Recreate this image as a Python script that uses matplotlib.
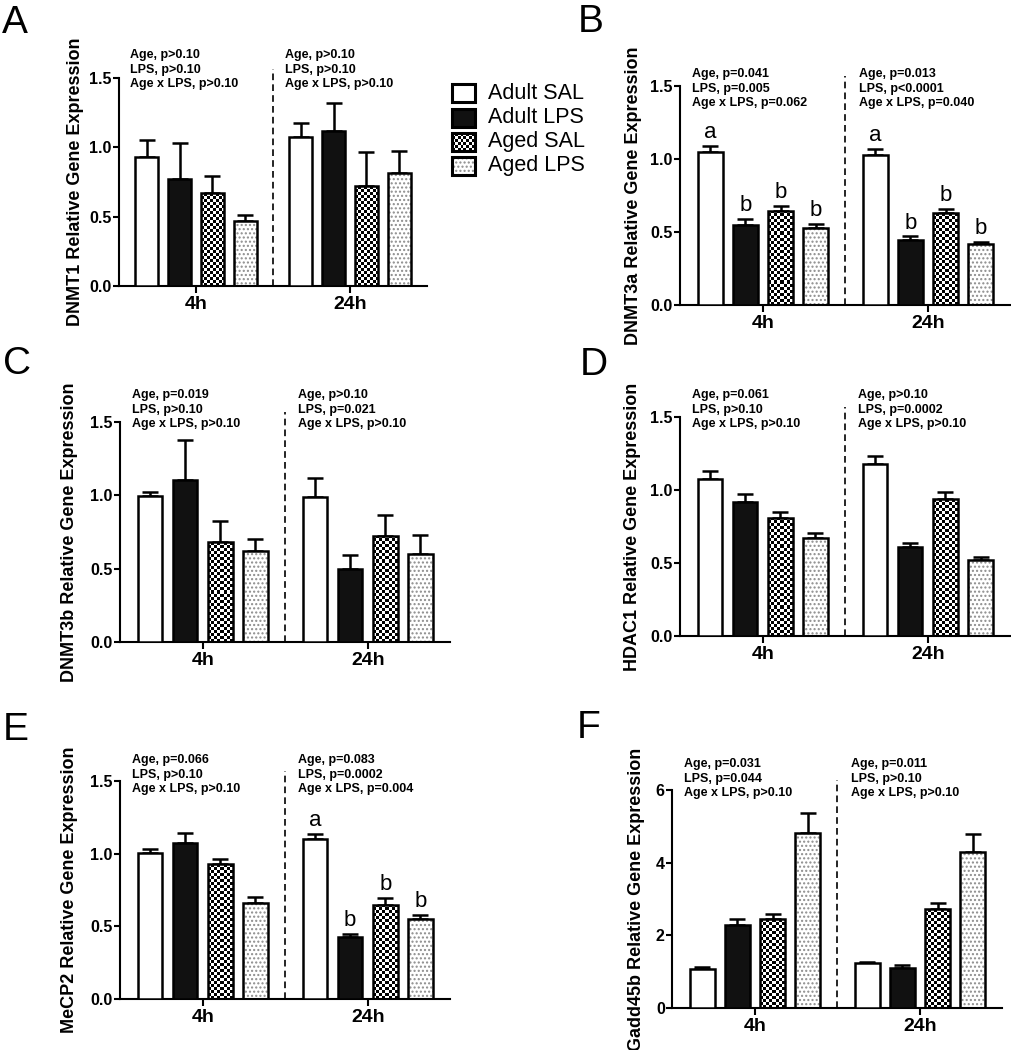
import matplotlib
matplotlib.use('Agg')
import matplotlib.pyplot as plt
import numpy as np
from matplotlib.patches import Rectangle

plt.rcParams['font.family'] = ['Liberation Sans', 'DejaVu Sans']
plt.rcParams['hatch.linewidth'] = 1.0

W, H = 1012, 1050

groups = ['4h', '24h']
conditions = ['Adult SAL', 'Adult LPS', 'Aged SAL', 'Aged LPS']

# rows: 4h, 24h ; cols: Adult SAL, Adult LPS, Aged SAL, Aged LPS
dnmt1_mean = [[0.93, 0.77, 0.67, 0.47], [1.075, 1.115, 0.72, 0.815]]
dnmt1_sem = [[0.12, 0.26, 0.12, 0.04], [0.10, 0.205, 0.245, 0.155]]
dnmt3a_mean = [[1.05, 0.55, 0.645, 0.53], [1.027, 0.445, 0.628, 0.418]]
dnmt3a_sem = [[0.04, 0.04, 0.033, 0.025], [0.043, 0.025, 0.032, 0.015]]
dnmt3b_mean = [[0.995, 1.107, 0.68, 0.618], [0.99, 0.498, 0.725, 0.60]]
dnmt3b_sem = [[0.025, 0.268, 0.147, 0.087], [0.126, 0.097, 0.143, 0.127]]
hdac1_mean = [[1.076, 0.919, 0.81, 0.672], [1.176, 0.609, 0.935, 0.52]]
hdac1_sem = [[0.054, 0.052, 0.038, 0.035], [0.054, 0.031, 0.05, 0.02]]
mecp2_mean = [[1.005, 1.073, 0.927, 0.658], [1.103, 0.427, 0.647, 0.553]]
mecp2_sem = [[0.029, 0.067, 0.039, 0.042], [0.035, 0.023, 0.05, 0.025]]
gadd45b_mean = [[1.07, 2.29, 2.445, 4.83], [1.236, 1.10, 2.72, 4.295]]
gadd45b_sem = [[0.05, 0.17, 0.145, 0.53], [0.035, 0.08, 0.16, 0.485]]

ylabels = ['DNMT1 Relative Gene Expression', 'DNMT3a Relative Gene Expression',
           'DNMT3b Relative Gene Expression', 'HDAC1 Relative Gene Expression',
           'MeCP2 Relative Gene Expression', 'Gadd45b Relative Gene Expression']

stats = [
    ('Age, p>0.10\nLPS, p>0.10\nAge x LPS, p>0.10', 'Age, p>0.10\nLPS, p>0.10\nAge x LPS, p>0.10'),
    ('Age, p=0.041\nLPS, p=0.005\nAge x LPS, p=0.062', 'Age, p=0.013\nLPS, p<0.0001\nAge x LPS, p=0.040'),
    ('Age, p=0.019\nLPS, p>0.10\nAge x LPS, p>0.10', 'Age, p>0.10\nLPS, p=0.021\nAge x LPS, p>0.10'),
    ('Age, p=0.061\nLPS, p>0.10\nAge x LPS, p>0.10', 'Age, p>0.10\nLPS, p=0.0002\nAge x LPS, p>0.10'),
    ('Age, p=0.066\nLPS, p>0.10\nAge x LPS, p>0.10', 'Age, p=0.083\nLPS, p=0.0002\nAge x LPS, p=0.004'),
    ('Age, p=0.031\nLPS, p=0.044\nAge x LPS, p>0.10', 'Age, p=0.011\nLPS, p>0.10\nAge x LPS, p>0.10'),
]

# significance letters per group (None = no letters)
sig_dnmt3a = [['a', 'b', 'b', 'b'], ['a', 'b', 'b', 'b']]
sig_mecp2 = [None, ['a', 'b', 'b', 'b']]

panels = [
    ('A', dnmt1_mean, dnmt1_sem, None),
    ('B', dnmt3a_mean, dnmt3a_sem, sig_dnmt3a),
    ('C', dnmt3b_mean, dnmt3b_sem, None),
    ('D', hdac1_mean, hdac1_sem, None),
    ('E', mecp2_mean, mecp2_sem, sig_mecp2),
    ('F', gadd45b_mean, gadd45b_sem, None),
]

# pixel layout: x of 4h tick, px between groups, y of zero, y of top tick,
# text offset above top, ylabel offset, letter x, letter baseline
layout = {
    'A': (196, 154, 286, 78, 27, 35, 2, 33),
    'B': (763, 165, 305, 86, 16, 38, 578, 32),
    'C': (202.7, 165, 642, 422, 31, 42, 3, 374),
    'D': (762.7, 165, 636, 417, 26, 39, 580, 375),
    'E': (202.7, 165, 999, 781, 25, 42, 3, 740),
    'F': (755, 165, 1008, 790, 30, 27, 577, 738),
}

offsets = np.array([-0.32, -0.107, 0.107, 0.32])
bar_w = 0.15
lw = 1.8


def checker(ax, patch, cell=3.0, zorder=2.5):
    bb = patch.get_window_extent()
    nx = max(2, int(round(bb.width / cell)))
    ny = max(1, int(round(bb.height / cell)))
    img = np.indices((ny, nx)).sum(axis=0) % 2
    d = patch.get_bbox()
    im = ax.imshow(img, cmap='gray_r', vmin=0, vmax=1, origin='lower',
                   extent=(d.x0, d.x1, d.y0, d.y1), aspect='auto',
                   interpolation='nearest', zorder=zorder)
    im.set_clip_path(patch)


fig = plt.figure(figsize=(W / 100, H / 100), dpi=100)

for i, (name, mean, sem, sig) in enumerate(panels):
    x4h, sp, y0, ytop, above, lab_off, lx, lby = layout[name]
    mean = np.array(mean)
    sem = np.array(sem)
    ymax = 6 if name == 'F' else 1.5
    ax = fig.add_axes([(x4h - 0.5 * sp) / W, 1 - y0 / H, 2 * sp / W, (y0 - ytop) / H])
    ax.set_xlim(-0.5, 1.5)
    ax.set_ylim(0, ymax)
    x = np.arange(len(groups))
    for j in range(len(conditions)):
        xs = x + offsets[j]
        ax.errorbar(xs, mean[:, j], yerr=[np.zeros(2), sem[:, j]], fmt='none',
                    ecolor='black', elinewidth=lw, capsize=6, capthick=lw, zorder=1)
        if j == 0:
            ax.bar(xs, mean[:, j], bar_w, color='white', edgecolor='black', linewidth=lw, zorder=3)
        elif j == 1:
            ax.bar(xs, mean[:, j], bar_w, color='#111111', edgecolor='black', linewidth=lw, zorder=3)
        elif j == 2:
            bars = ax.bar(xs, mean[:, j], bar_w, facecolor='none', edgecolor='black', linewidth=lw, zorder=3)
            for p in bars:
                checker(ax, p)
        else:
            ax.bar(xs, mean[:, j], bar_w, color='white', edgecolor='#8c8c8c', hatch='....',
                   linewidth=0, zorder=2)
            ax.bar(xs, mean[:, j], bar_w, facecolor='none', edgecolor='black', linewidth=lw, zorder=3)
        if sig is not None:
            for g in range(len(groups)):
                if sig[g] is not None:
                    ax.annotate(sig[g][j], (xs[g], mean[g, j] + sem[g, j]), xytext=(0, 2),
                                textcoords='offset points', ha='center', va='bottom', fontsize=16)
    ax.set_xlim(-0.5, 1.5)
    ax.set_ylim(0, ymax)

    # dashed separator between time points
    ax.plot([0.5, 0.5], [0, ymax * 1.045], color='black', lw=1.2, ls=(0, (4, 2.5)), clip_on=False)

    ytop_frac = 1 + (above + 2) / (y0 - ytop)
    for g, xt in enumerate([-0.43, 0.58]):
        ax.text(xt, ytop_frac, stats[i][g], transform=ax.get_xaxis_transform(), ha='left', va='top',
                fontsize=9, fontweight='bold', linespacing=1.28)

    if name == 'F':
        ticks = [0, 2, 4, 6]
        tlabels = ['0', '2', '4', '6']
    else:
        ticks = [0, 0.5, 1.0, 1.5]
        tlabels = ['0.0', '0.5', '1.0', '1.5']
    ax.set_yticks(ticks, tlabels, fontweight='bold')
    ax.set_xticks(x, groups, fontweight='bold')
    ax.tick_params(axis='y', labelsize=11.5, width=1.5, length=4, pad=1.5)
    ax.tick_params(axis='x', labelsize=14, width=1.5, length=5, pad=2)
    for s in ['top', 'right']:
        ax.spines[s].set_visible(False)
    for s in ['left', 'bottom']:
        ax.spines[s].set_linewidth(1.5)
    ax.set_ylabel(ylabels[i], fontsize=13, fontweight='bold')
    ax.yaxis.set_label_coords(-lab_off / (2 * sp), 0.5)

    fig.text(lx / W, 1 - lby / H, name, fontsize=28, ha='left', va='baseline')

# legend drawn by hand so the checker pattern shows
lax = fig.add_axes([440 / W, 1 - 185 / H, 160 / W, 110 / H])
lax.set_xlim(440, 600)
lax.set_ylim(185, 75)
lax.axis('off')
row_y = [93, 117.5, 142, 166]
for j, cond in enumerate(conditions):
    cy = row_y[j]
    if j == 3:
        lax.add_patch(Rectangle((452, cy - 9), 23, 18, facecolor='white', edgecolor='#8c8c8c',
                                hatch='....', linewidth=0, zorder=2))
    face = '#111111' if j == 1 else ('none' if j >= 2 else 'white')
    box = Rectangle((452, cy - 9), 23, 18, facecolor=face, edgecolor='black', linewidth=2.2, zorder=3)
    lax.add_patch(box)
    if j == 2:
        checker(lax, box)
    lax.text(488, cy, cond, fontsize=15.5, va='center', ha='left')
lax.set_xlim(440, 600)
lax.set_ylim(185, 75)

fig.savefig('out.png', dpi=100)
